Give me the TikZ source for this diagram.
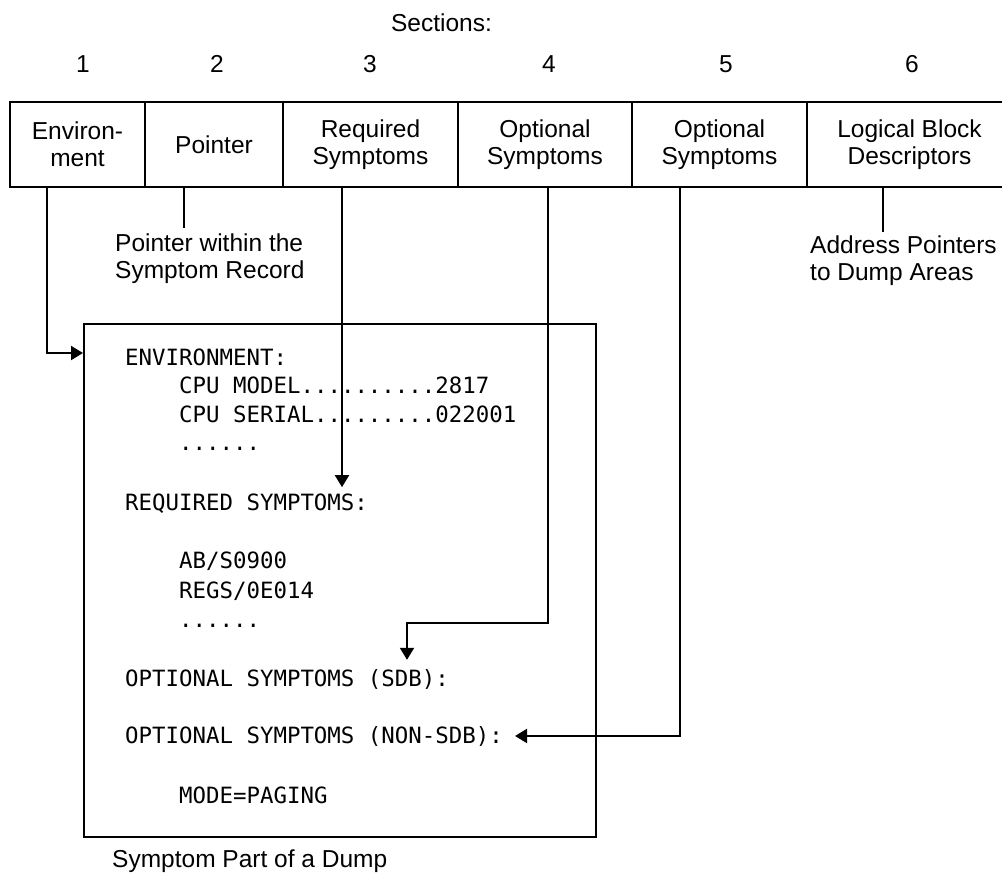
\documentclass[tikz,border=0pt]{standalone}
\usepackage{fontspec}
\setmainfont{Liberation Sans}
\setmonofont{DejaVu Sans Mono}
\usetikzlibrary{arrows.meta,positioning}

\begin{document}
\begin{tikzpicture}[x=1pt,y=-1pt]
		\tikzset{cell/.style = {draw,line width=2pt,minimum height=85pt,inner sep=0pt,outer sep=0pt,align=center,font=\fontsize{24.5}{27}\selectfont}}
		\tikzset{note/.style = {inner sep=0pt,align=left,font=\fontsize{24.5}{27}\selectfont}}
		\tikzset{listing/.style = {anchor=base west,inner sep=0pt,font=\ttfamily\fontsize{22.4}{28}\selectfont}}
		\tikzset{wire/.style = {line width=2pt}}
		\tikzset{edge/.style = {wire,-{Triangle[length=12pt,width=14pt]}}}
		\useasboundingbox (0,0) rectangle (1002,875);
		% section numbers
		\node[note,anchor=base] (head) at (441.5,32) {Sections:};
		\node[note,anchor=base] (s1) at (83,73) {1};
		\node[note,anchor=base] (s2) at (217,73) {2};
		\node[note,anchor=base] (s3) at (370,73) {3};
		\node[note,anchor=base] (s4) at (549,73) {4};
		\node[note,anchor=base] (s5) at (726,73) {5};
		\node[note,anchor=base] (s6) at (912,73) {6};
		% the record, one cell per section
		\node[cell,minimum width=135pt] (env) at (77.5,144.5) {Environ-\\ment};
		\node[cell,minimum width=138pt,right=0pt of env] (ptr) {Pointer};
		\node[cell,minimum width=175pt,right=0pt of ptr] (req) {Required\\Symptoms};
		\node[cell,minimum width=174pt,right=0pt of req] (opt) {Optional\\Symptoms};
		\node[cell,minimum width=175pt,right=0pt of opt] (nonsdb) {Optional\\Symptoms};
		\node[cell,minimum width=205pt,right=0pt of nonsdb] (lbd) {Logical Block\\Descriptors};
		\node[note,anchor=north west] (ptrnote) at (115,234) {Pointer within the\\Symptom Record};
		\node[note,anchor=north west] (lbdnote) at (810,236) {Address Pointers\\to Dump Areas};
		% dump box and its listing
		\node[draw,line width=2pt,inner sep=0pt,minimum width=512pt,minimum height=513pt,anchor=north west] (dump) at (83,323) {};
		\node[listing] (envhead) at (125,365) {ENVIRONMENT:};
		\node[listing] (model) at (179,393) {CPU MODEL..........2817};
		\node[listing] (serial) at (179,422) {CPU SERIAL.........022001};
		\node[listing] (envmore) at (179,450) {......};
		\node[listing] (reqhead) at (125,510) {REQUIRED SYMPTOMS:};
		\node[listing] (abend) at (179,568) {AB/S0900};
		\node[listing] (regs) at (179,598) {REGS/0E014};
		\node[listing] (reqmore) at (179,627) {......};
		\node[listing] (sdbhead) at (125,686) {OPTIONAL SYMPTOMS (SDB):};
		\node[listing] (nonhead) at (125,743) {OPTIONAL SYMPTOMS (NON-SDB):};
		\node[listing] (mode) at (179,803) {MODE=PAGING};
		\node[note,anchor=base west] (caption) at (112,867) {Symptom Part of a Dump};
		% connectors
		\draw[wire,shorten >=6pt] ([xshift=-30]ptr.south) -- ([xshift=-30]ptr.south |- ptrnote.north);
		\draw[wire,shorten >=4pt] ([xshift=-26.5]lbd.south) -- ([xshift=-26.5]lbd.south |- lbdnote.north);
		\draw[edge] ([xshift=-30.5]env.south) |- ([yshift=-30]dump.north west);
		\draw[edge,shorten >=6pt] ([xshift=-28.5]req.south) -- ([xshift=-28.5]req.south |- reqhead.north);
		\draw[edge,shorten >=9pt] ([xshift=3]opt.south) |- (407,623) -- (407,0 |- sdbhead.north);
		\draw[edge] ([xshift=-39.5]nonsdb.south) |- ([xshift=12]nonhead.east);
	\end{tikzpicture}
\end{document}
